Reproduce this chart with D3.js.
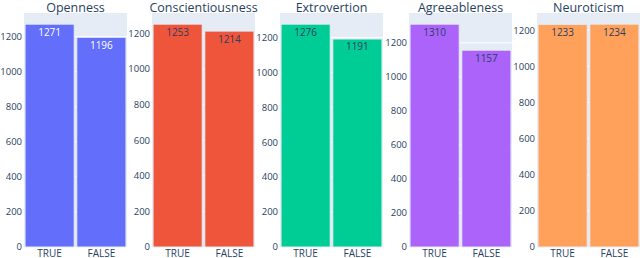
<!DOCTYPE html>
<html>
<head>
<meta charset="utf-8">
<script src="https://cdn.jsdelivr.net/npm/d3@7"></script>
<style>
  body { margin: 0; background: #fff; }
  text { font-family: "Open Sans", sans-serif; }
</style>
</head>
<body>
<div id="chart"></div>
<script>
let traits = ['Openness', 'Conscientiousness', 'Extrovertion', 'Agreeableness', 'Neuroticism']
let categories = ['TRUE', 'FALSE']
let trueCounts = [1271, 1253, 1276, 1310, 1233]
let falseCounts = [1196, 1214, 1191, 1157, 1234]
let yTicks = [0, 200, 400, 600, 800, 1000, 1200]

let colors = ['#636EFA', '#EF553B', '#00CC96', '#AB63FA', '#FFA15A']
let labelColors = ['#ffffff', '#2a3f5f', '#2a3f5f', '#2a3f5f', '#2a3f5f']

let width = 640
let height = 258
let panelLefts = [24, 152, 280, 409, 537]
let panelWidth = 103
let plotTop = 13
let plotBottom = 247

let svg = d3
  .select('#chart')
  .append('svg')
  .attr('width', width)
  .attr('height', height)

traits.forEach((trait, i) => {
  let values = [trueCounts[i], falseCounts[i]]
  let left = panelLefts[i]

  let xPositionScale = d3
    .scaleBand()
    .domain(categories)
    .range([left, left + panelWidth])
    .paddingInner(0.05)
    .paddingOuter(0.02)

  // plotly style: 5% headroom above tallest bar
  let yPositionScale = d3
    .scaleLinear()
    .domain([0, d3.max(values) * 1.05])
    .range([plotBottom, plotTop])

  let g = svg.append('g').attr('class', 'panel')

  g.append('rect')
    .attr('x', left)
    .attr('y', plotTop)
    .attr('width', panelWidth)
    .attr('height', plotBottom - plotTop)
    .attr('fill', '#E5ECF6')

  g.selectAll('.grid')
    .data(yTicks.slice(1))
    .enter()
    .append('line')
    .attr('x1', left)
    .attr('x2', left + panelWidth)
    .attr('y1', d => yPositionScale(d))
    .attr('y2', d => yPositionScale(d))
    .attr('stroke', '#ffffff')
    .attr('stroke-width', 1)

  let rows = categories.map((c, j) => ({ cat: c, value: values[j] }))

  g.selectAll('.bar')
    .data(rows)
    .enter()
    .append('rect')
    .attr('x', d => xPositionScale(d.cat))
    .attr('y', d => yPositionScale(d.value))
    .attr('width', xPositionScale.bandwidth())
    .attr('height', d => plotBottom - yPositionScale(d.value))
    .attr('fill', colors[i])
    .attr('stroke', '#E5ECF6')
    .attr('stroke-width', 1)

  g.selectAll('.bar-label')
    .data(rows)
    .enter()
    .append('text')
    .attr('x', d => xPositionScale(d.cat) + xPositionScale.bandwidth() / 2)
    .attr('y', d => yPositionScale(d.value) + 11.5)
    .attr('text-anchor', 'middle')
    .attr('font-size', 10)
    .attr('fill', labelColors[i])
    .text(d => d.value)

  // y axis tick labels
  g.selectAll('.y-tick')
    .data(yTicks)
    .enter()
    .append('text')
    .attr('x', left - 2)
    .attr('y', d => yPositionScale(d))
    .attr('dy', '0.35em')
    .attr('text-anchor', 'end')
    .attr('font-size', 9.5)
    .attr('fill', '#2a3f5f')
    .text(d => d)

  // x axis labels
  g.selectAll('.x-tick')
    .data(categories)
    .enter()
    .append('text')
    .attr('x', d => xPositionScale(d) + xPositionScale.bandwidth() / 2)
    .attr('y', 256.5)
    .attr('text-anchor', 'middle')
    .attr('font-size', 10)
    .attr('fill', '#2a3f5f')
    .text(d => d)

  g.append('text')
    .attr('x', left + panelWidth / 2)
    .attr('y', 12)
    .attr('text-anchor', 'middle')
    .attr('font-size', 12.5)
    .attr('fill', '#2a3f5f')
    .text(trait)
})
</script>
</body>
</html>
